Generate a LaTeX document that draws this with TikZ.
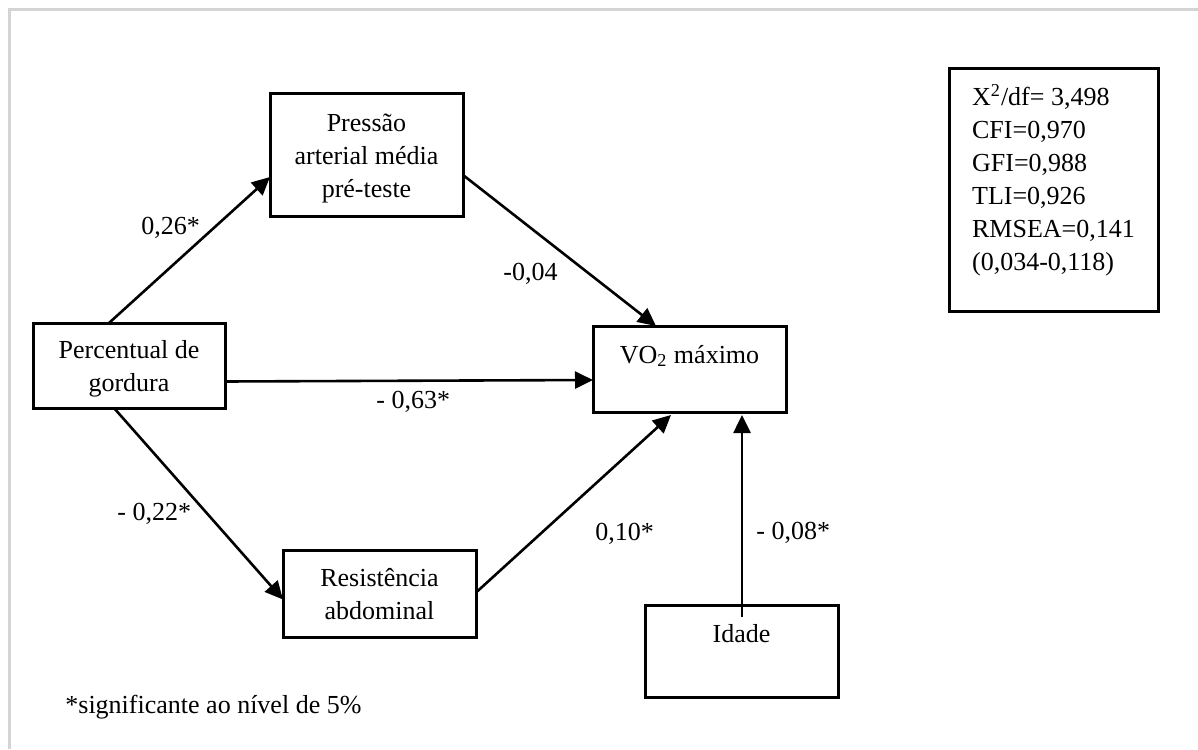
\documentclass[tikz,border=0pt]{standalone}
\usepackage{fontspec}
\setmainfont{Liberation Serif}
\usetikzlibrary{arrows.meta,calc}
\begin{document}
\begin{tikzpicture}[x=0.5pt,y=-0.5pt,
  box/.style={draw=black,line width=1.5pt,inner xsep=0pt,inner ysep=0pt,outer sep=0pt,
    minimum width=96.5pt,font=\fontsize{13}{16.5}\selectfont},
  arr/.style={line width=1.3pt,-{Triangle[length=9pt,width=8.5pt]}},
  lab/.style={inner sep=0pt,anchor=base west,font=\fontsize{13}{16.5}\selectfont},
  frameline/.style={draw=black!17,line width=1.5pt}]
\useasboundingbox (0,0) rectangle (1198,749);
\draw[frameline] (1198,10) -- (9,10) -- (9,749);

\node[box,text height=18.85pt,text depth=42.15pt] (P) at (366.5,155)
  {\begin{tabular}[t]{@{}c@{}}Pressão\\arterial média\\pré-teste\end{tabular}};
\node[box,minimum width=96pt,text height=17.5pt,text depth=25pt] (G) at (129,365.5)
  {\begin{tabular}[t]{@{}c@{}}Percentual de\\gordura\end{tabular}};
\node[box,text height=18.5pt,text depth=24.5pt] (V) at (689.5,369)
  {VO\textsubscript{2} máximo};
\node[box,text height=18.35pt,text depth=25.15pt] (R) at (379.5,593.5)
  {\begin{tabular}[t]{@{}c@{}}Resistência\\abdominal\end{tabular}};
\node[box,text height=18.5pt,text depth=27.5pt] (I) at (741.5,651)
  {Idade};
\node[box,minimum width=104.5pt,text height=18pt,text depth=103pt] (S) at (1053.5,190)
  {\begin{tabular}[t]{@{}l@{}}X\textsuperscript{2}/df= 3,498\\CFI=0,970\\GFI=0,988\\TLI=0,926\\RMSEA=0,141\\(0,034-0,118)\end{tabular}};

\draw[arr] ($(G.north west)+(76,0)$) -- ($(P.south west)+(0,-39)$);
\draw[arr] ($(P.east)+(0,20)$) -- ($(V.north west)+(63,0)$);
\draw[arr] ($(G.east)+(0,16)$) -- ($(V.west)+(0,11)$);
\draw[arr] ($(G.south west)+(81,0)$) -- ($(R.west)+(0,6)$);
\draw[arr] ($(R.east)+(0,-1)$) -- ($(V.south west)+(78,3)$);
\draw[arr] ($(I.north)+(0.5,12)$) -- ($(V.south)+(52.5,3)$);

\node[lab] (l1) at (141,234) {0,26*};
\node[lab] (l2) at (503,280) {-0,04};
\node[lab] (l3) at (376,408) {- 0,63*};
\node[lab] (l4) at (117,520) {- 0,22*};
\node[lab] (l5) at (595,540) {0,10*};
\node[lab] (l6) at (756,539) {- 0,08*};
\node[lab] (note) at (65,713) {*significante ao nível de 5\%};
\end{tikzpicture}
\end{document}
